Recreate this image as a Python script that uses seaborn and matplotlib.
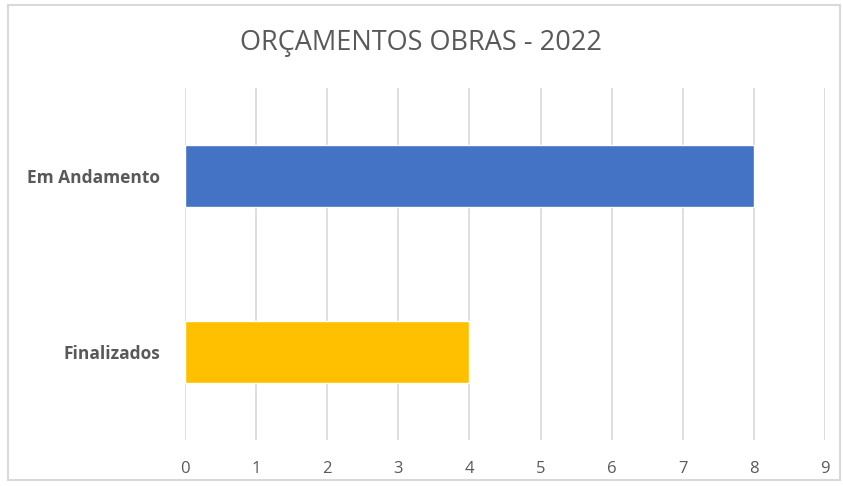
import matplotlib
matplotlib.use("Agg")
import matplotlib.pyplot as plt
import seaborn as sns
import pandas as pd
from matplotlib.patches import Rectangle

categorias = ["Em Andamento", "Finalizados"]
valores = [8, 4]
cores = ["#4472C4", "#FFC000"]
ticks_x = list(range(0, 10))

df = pd.DataFrame({"status": categorias, "qtd": valores})

sns.set_style("white")
plt.rcParams['font.family'] = ['Open Sans', 'DejaVu Sans']

fig = plt.figure(figsize=(8.43, 4.86), dpi=100)
ax = fig.add_axes([185 / 843, 1 - 440 / 486, 640 / 843, 352 / 486])

sns.barplot(data=df, y="status", x="qtd", hue="status", palette=cores,
            orient="h", width=0.35, saturation=1, legend=False, ax=ax)

ax.set_xlim(0, 9)
ax.set_ylim(1.5, -0.5)
ax.set_xticks(ticks_x)
ax.set_xticklabels([str(t) for t in ticks_x], fontsize=12, color="#595959")
ax.set_yticklabels(categorias, fontsize=12.5, fontweight="bold", color="#595959")
ax.tick_params(axis="x", length=0, pad=15)
ax.tick_params(axis="y", length=0, pad=18)
ax.set_xlabel("")
ax.set_ylabel("")
ax.xaxis.grid(True, color="#D9D9D9", linewidth=1.2)
ax.set_axisbelow(True)
for s in ax.spines.values():
    s.set_visible(False)

fig.text(0.5, 1 - 43 / 486, "ORÇAMENTOS OBRAS - 2022", ha="center", va="center",
         fontsize=19.5, color="#595959")

fig.patches.append(Rectangle((8 / 843, 1 - 480 / 486), 832 / 843, 475 / 486,
                             transform=fig.transFigure, fill=False,
                             edgecolor="#D9D9D9", linewidth=1.5))

fig.savefig("out.png", dpi=100)
